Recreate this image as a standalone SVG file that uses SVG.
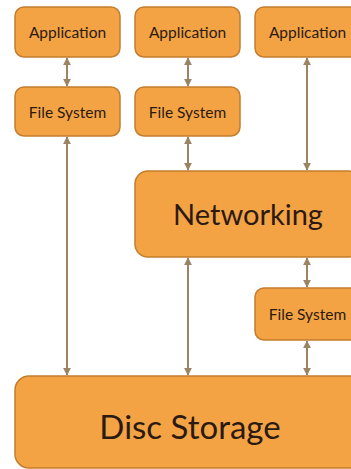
<svg xmlns="http://www.w3.org/2000/svg" width="351" height="469" viewBox="0 0 351 469">
<style>
.box{fill:#F4A344;stroke:#C27D2E;stroke-width:1.5}
.t{font-family:Lato,"Open Sans",sans-serif;fill:#2B1A12;text-anchor:middle}
.s{font-size:15.5px}
.c{stroke:#9B8464;stroke-width:2;fill:none;marker-start:url(#a);marker-end:url(#a)}
</style>
<defs>
<marker id="a" viewBox="0 0 10 10" refX="9" refY="5" markerWidth="4" markerHeight="4" orient="auto-start-reverse">
<path d="M0,0 L10,5 L0,10 z" fill="#9B8464"/>
</marker>
</defs>
<rect width="351" height="469" fill="#fff"/>
<g id="connectors">
<line class="c" x1="67" y1="58" x2="67" y2="86"/>
<line class="c" x1="188" y1="58" x2="188" y2="86"/>
<line class="c" x1="307" y1="58" x2="307" y2="170"/>
<line class="c" x1="188" y1="137" x2="188" y2="170"/>
<line class="c" x1="67" y1="137" x2="67" y2="375"/>
<line class="c" x1="188" y1="258" x2="188" y2="375"/>
<line class="c" x1="307" y1="258" x2="307" y2="287"/>
<line class="c" x1="307" y1="341" x2="307" y2="375"/>
</g>
<g id="app1"><rect class="box" x="15" y="7" width="105" height="50" rx="9"/><text class="t s" x="67.5" y="37.5">Application</text></g>
<g id="app2"><rect class="box" x="135" y="7" width="105" height="50" rx="9"/><text class="t s" x="187.5" y="37.5">Application</text></g>
<g id="app3"><rect class="box" x="255" y="7" width="105" height="50" rx="9"/><text class="t s" x="307.5" y="37.5">Application</text></g>
<g id="fs1"><rect class="box" x="15" y="87" width="105" height="49" rx="9"/><text class="t s" x="67.5" y="117.5">File System</text></g>
<g id="fs2"><rect class="box" x="135" y="87" width="105" height="49" rx="9"/><text class="t s" x="187.5" y="117.5">File System</text></g>
<g id="networking"><rect class="box" x="135" y="171" width="226" height="86" rx="13"/><text class="t" x="248" y="225" font-size="29">Networking</text></g>
<g id="fs3"><rect class="box" x="255" y="288" width="105" height="52" rx="9"/><text class="t s" x="307.5" y="319.5">File System</text></g>
<g id="disc"><rect class="box" x="15" y="376" width="350" height="92" rx="14"/><text class="t" x="190" y="439" font-size="33">Disc Storage</text></g>
</svg>
